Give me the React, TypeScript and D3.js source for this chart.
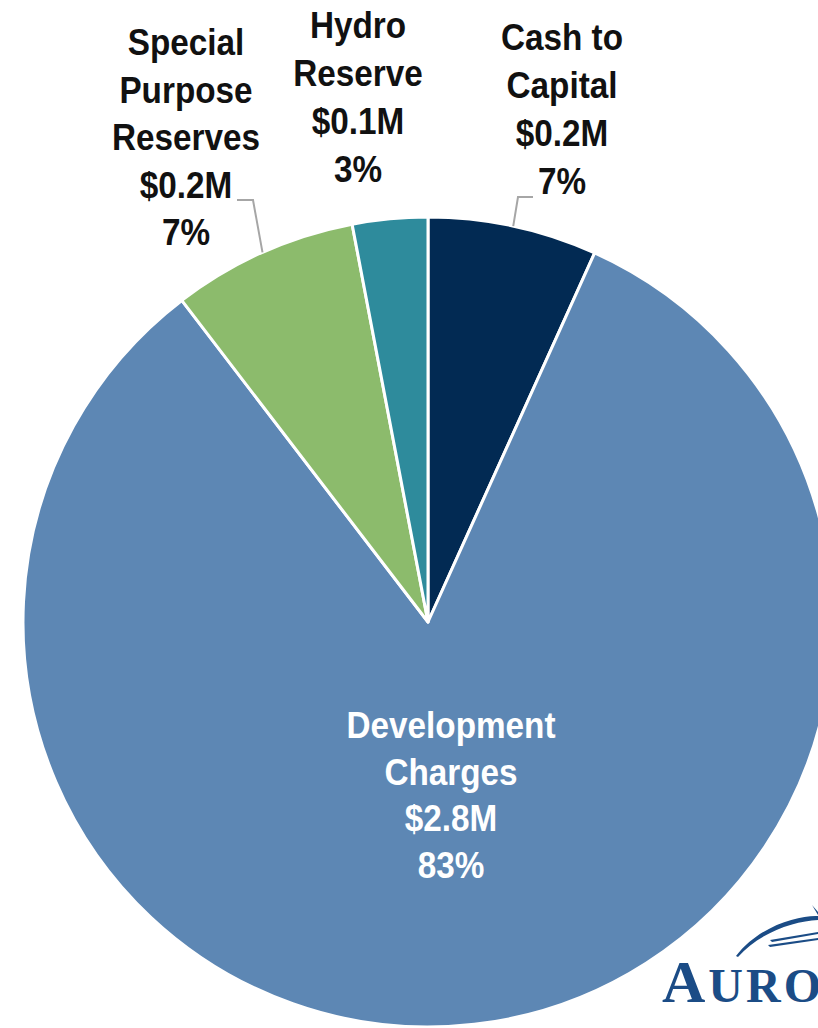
import React from "react";
import * as d3 from "d3";

const categories = ["Cash to Capital", "Development Charges", "Special Purpose Reserves", "Hydro Reserve"];
const shares = [6.75, 82.85, 7.4, 3.0];
const amounts = ["$0.2M", "$2.8M", "$0.2M", "$0.1M"];
const percents = ["7%", "83%", "7%", "3%"];
const colors = ["#022a53", "#5d87b4", "#8cbb6c", "#2e8b9c"];
const labelLines = [["Cash to", "Capital"], ["Development", "Charges"], ["Special", "Purpose", "Reserves"], ["Hydro", "Reserve"]];

const W = 818, H = 1028;
const cx = 428, cy = 622, R = 405;

// label anchors (center x, first baseline, line spacing)
const labelPos = [
  { x: 562, y: 50, dy: 48, fill: "#111" },
  { x: 451, y: 738, dy: 46.5, fill: "#fff" },
  { x: 186, y: 55, dy: 47.5, fill: "#111" },
  { x: 358, y: 38, dy: 48, fill: "#111" },
];

export default function App() {
  const data = categories.map((c, i) => ({ c, v: shares[i], i }));
  const pie = d3.pie<any>().value((d) => d.v).sort(null).startAngle(0).endAngle(2 * Math.PI);
  const arcs = pie(data);
  const arcGen = d3.arc<any>().innerRadius(0).outerRadius(R);
  const pt = (a: number, r: number) => [cx + r * Math.sin(a), cy - r * Math.cos(a)];

  // leader lines for cash (index 0) and special (index 2)
  const cashA = (arcs[0].startAngle + arcs[0].endAngle) / 2;
  const [cx0, cy0] = pt(cashA, R);
  const specA = (arcs[2].startAngle + arcs[2].endAngle) / 2;
  const [sx0, sy0] = pt(specA, R);

  return (
    <svg width={W} height={H} style={{ position: "absolute", left: 0, top: 0, background: "#fff" }}>
      <g>
        {arcs.map((a, i) => (
          <path key={i} d={arcGen(a) as string} transform={`translate(${cx},${cy})`} fill={colors[i]} stroke="#fff" strokeWidth={3} strokeLinejoin="round" />
        ))}
      </g>
      <polyline points={`${cx0},${cy0} 518,197 533,197`} fill="none" stroke="#a6a6a6" strokeWidth={2} />
      <polyline points={`${sx0},${sy0} 253,200 237,200`} fill="none" stroke="#a6a6a6" strokeWidth={2} />
      {labelPos.map((p, i) => {
        const lines = [...labelLines[i], amounts[i], percents[i]];
        return (
          <g key={i} fontFamily="'Liberation Sans', Arial, sans-serif" fontWeight="bold" fontSize={37} fill={p.fill} textAnchor="middle">
            {lines.map((t, j) => (
              <text key={j} transform={`translate(${p.x},${p.y + j * p.dy}) scale(0.9,1)`}>{t}</text>
            ))}
          </g>
        );
      })}
      {/* logo */}
      <g fill="#1b4c86">
        <path d="M736,956 C760,925 800,915 818,916 L818,920 C795,921 760,932 738,957 Z" />
        <path d="M770,940 L818,932 L818,934 L772,942 Z" />
        <path d="M768,945 L818,938 L818,940 L770,947 Z" />
        <path d="M812,905 L818,912 L818,915 Z" />
        <text x={662} y={1002} fontFamily="'Liberation Serif', 'DejaVu Serif', serif" fontWeight="bold" fontSize={60} letterSpacing={3}>A<tspan fontSize={48}>URO</tspan></text>
      </g>
    </svg>
  );
}
